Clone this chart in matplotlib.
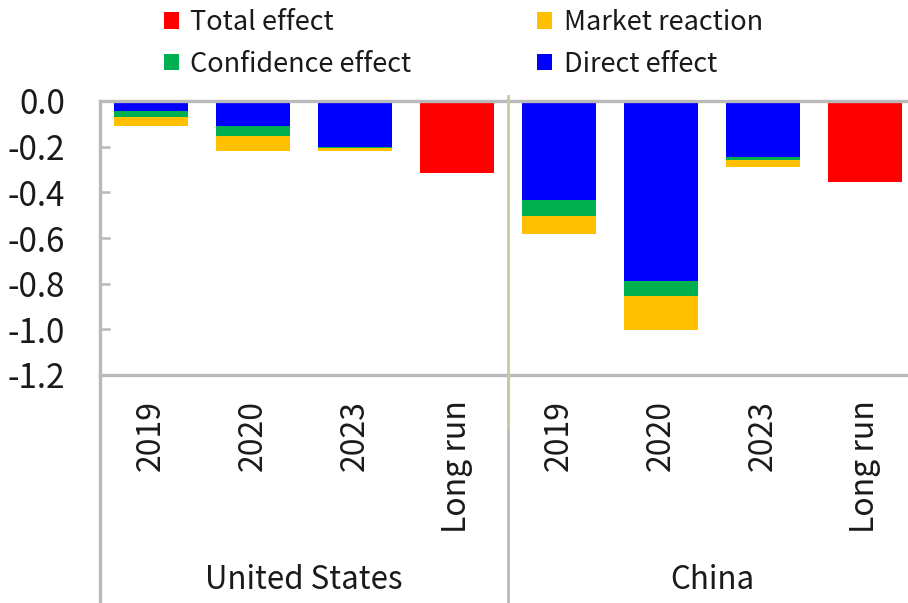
import numpy as np
import matplotlib
matplotlib.use("Agg")
import matplotlib.pyplot as plt
import matplotlib.transforms as mtransforms
from matplotlib.patches import Patch

plt.rcParams['font.family'] = ['Noto Sans CJK KR', 'DejaVu Sans']
plt.rcParams['axes.unicode_minus'] = False

# data
groups = ["United States", "China"]
periods = ["2019", "2020", "2023", "Long run"]
direct = [-0.042, -0.110, -0.203, 0.0, -0.434, -0.787, -0.247, 0.0]
confidence = [-0.029, -0.042, -0.002, 0.0, -0.070, -0.067, -0.012, 0.0]
market = [-0.038, -0.067, -0.014, 0.0, -0.080, -0.150, -0.029, 0.0]
total = [0.0, 0.0, 0.0, -0.314, 0.0, 0.0, 0.0, -0.354]
yticks = [0.0, -0.2, -0.4, -0.6, -0.8, -1.0, -1.2]

c_total = '#ff0000'
c_market = '#ffc000'
c_conf = '#00b050'
c_direct = '#0000ff'
gray = '#b9b9b9'
tan = '#cdc7a0'
txt = '#1a1a1a'

fig = plt.figure(figsize=(9.08, 6.03), dpi=100)
ax = fig.add_axes([100 / 908, 1 - 375 / 603, 816 / 908, 274 / 603])

x = np.arange(len(periods) * len(groups))
w = 0.73
direct = np.array(direct)
confidence = np.array(confidence)
market = np.array(market)

ax.bar(x, direct, w, color=c_direct)
ax.bar(x, confidence, w, bottom=direct, color=c_conf)
ax.bar(x, market, w, bottom=direct + confidence, color=c_market)
ax.bar(x, total, w, color=c_total)

ax.set_xlim(-0.5, 7.5)
ax.set_ylim(-1.2, 0)
for s in ax.spines.values():
    s.set_visible(False)

ax.set_yticks(yticks)
ax.set_yticklabels(['%.1f' % v for v in yticks])
ax.tick_params(axis='y', direction='in', length=7, width=1.8, color=gray,
               labelsize=24, pad=25, labelcolor=txt)
ax.set_xticks(x)
ax.set_xticklabels(periods * len(groups), rotation=90, va='top', ha='center')
ax.tick_params(axis='x', length=0, labelsize=23, pad=18, labelcolor=txt)

# frame lines
ax.axhline(0, color=gray, lw=2.4, clip_on=False, zorder=5)
ax.axhline(-1.2, color=gray, lw=2.4, clip_on=False, zorder=5)
trans = mtransforms.blended_transform_factory(ax.transData, ax.transAxes)
ax.plot([-0.5, -0.5], [1.0, -0.9], color=gray, lw=2.4, transform=trans,
        clip_on=False, zorder=5)
ax.plot([3.5, 3.5], [0.0, -0.9], color=gray, lw=2.0, transform=trans,
        clip_on=False, zorder=5)
ax.plot([3.5, 3.5], [1.018, -0.193], color=tan, lw=2.0, transform=trans,
        clip_on=False, zorder=6)

# group labels
for i, g in enumerate(groups):
    ax.text(i * 4 + 1.5, -0.748, g, transform=trans, ha='center', va='center',
            fontsize=22.5, color=txt)

handles = [Patch(facecolor=c_total), Patch(facecolor=c_conf),
           Patch(facecolor=c_market), Patch(facecolor=c_direct)]
labels = ["Total effect", "Confidence effect", "Market reaction", "Direct effect"]
fig.legend(handles, labels, ncol=2, loc='upper left',
           bbox_to_anchor=(164 / 908, 1 - 9 / 603), frameon=False,
           fontsize=19.5, labelcolor=txt,
           handlelength=0.55, handleheight=0.55, handletextpad=0.42,
           columnspacing=4.65, borderpad=0, borderaxespad=0, labelspacing=0.55)

fig.savefig('out.png', dpi=100)
